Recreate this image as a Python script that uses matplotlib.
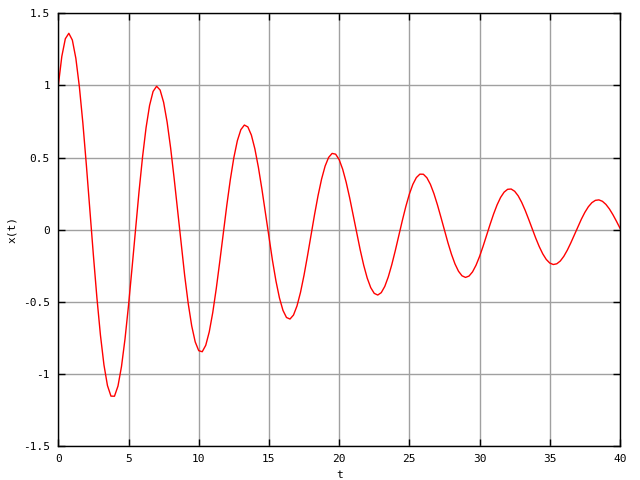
# Import libraries
import numpy as np
import matplotlib
matplotlib.use("Agg")
import matplotlib.pyplot as plt

# Sample times and the x(t) values
t = np.linspace(0, 40, 161)
x = [
    1.0000, 1.2012, 1.3235, 1.3613, 1.3144, 1.1877, 0.9910, 0.7382, 0.4462, 0.1340,
    -0.1789, -0.4729, -0.7306, -0.9370, -1.0806, -1.1541, -1.1548, -1.0843, -0.9489, -0.7584,
    -0.5259, -0.2668, 0.0024, 0.2648, 0.5043, 0.7069, 0.8610, 0.9583, 0.9942, 0.9681,
    0.8829, 0.7455, 0.5657, 0.3554, 0.1285, -0.1008, -0.3182, -0.5106, -0.6669, -0.7782,
    -0.8389, -0.8464, -0.8017, -0.7087, -0.5744, -0.4080, -0.2207, -0.0243, 0.1686, 0.3465,
    0.4986, 0.6162, 0.6931, 0.7253, 0.7122, 0.6555, 0.5598, 0.4321, 0.2809, 0.1162,
    -0.0517, -0.2122, -0.3557, -0.4738, -0.5597, -0.6090, -0.6197, -0.5919, -0.5285, -0.4342,
    -0.3154, -0.1799, -0.0369, 0.1049, 0.2368, 0.3508, 0.4403, 0.5006, 0.5286, 0.5233,
    0.4860, 0.4196, 0.3291, 0.2206, 0.1011, -0.0216, -0.1400, -0.2468, -0.3358, -0.4019,
    -0.4417, -0.4533, -0.4367, -0.3936, -0.3274, -0.2426, -0.1450, -0.0409, 0.0632, 0.1608,
    0.2461, 0.3141, 0.3612, 0.3848, 0.3841, 0.3598, 0.3140, 0.2500, 0.1722, 0.0857,
    -0.0040, -0.0912, -0.1706, -0.2375, -0.2882, -0.3199, -0.3311, -0.3217, -0.2927, -0.2464,
    -0.1860, -0.1157, -0.0401, 0.0362, 0.1084, 0.1721, 0.2237, 0.2602, 0.2798, 0.2817,
    0.2662, 0.2347, 0.1895, 0.1338, 0.0712, 0.0058, -0.0584, -0.1173, -0.1676, -0.2064,
    -0.2315, -0.2417, -0.2367, -0.2174, -0.1851, -0.1422, -0.0916, -0.0367, 0.0192, 0.0724,
    0.1199, 0.1589, 0.1872, 0.2032, 0.2064, 0.1966, 0.1751, 0.1433, 0.1034, 0.0582,
    0.0105,
]

# Tick positions and labels
xticks = [0, 5, 10, 15, 20, 25, 30, 35, 40]
xticklabels = ['0', '5', '10', '15', '20', '25', '30', '35', '40']
yticks = [-1.5, -1, -0.5, 0, 0.5, 1, 1.5]
yticklabels = ['-1.5', '-1', '-0.5', '0', '0.5', '1', '1.5']

plt.rcParams['font.family'] = ['DejaVu Sans Mono']

# Create figure and axes
fig = plt.figure(figsize=(6.4, 4.8), dpi=100)
ax = fig.add_axes([0.0911, 0.0708, 0.8776, 0.9015])

# Plot the curve
ax.plot(t, x, color='#ff0000', linewidth=1.0)

ax.set_xlim(0, 40)
ax.set_ylim(-1.5, 1.5)
ax.set_xticks(xticks)
ax.set_xticklabels(xticklabels)
ax.set_yticks(yticks)
ax.set_yticklabels(yticklabels)

# gnuplot-like ticks and grid
ax.tick_params(direction='in', length=5, width=1, top=True, right=True,
               labelsize=8, pad=6)
ax.grid(True, color='#a0a0a0', linewidth=1, linestyle='-')
ax.set_axisbelow(True)
for s in ax.spines.values():
    s.set_linewidth(1)
    s.set_color('black')

ax.set_xlabel('t', fontsize=8, labelpad=4)
ax.set_ylabel('x(t)', fontsize=8, labelpad=4)

fig.savefig('out.png', dpi=100)
